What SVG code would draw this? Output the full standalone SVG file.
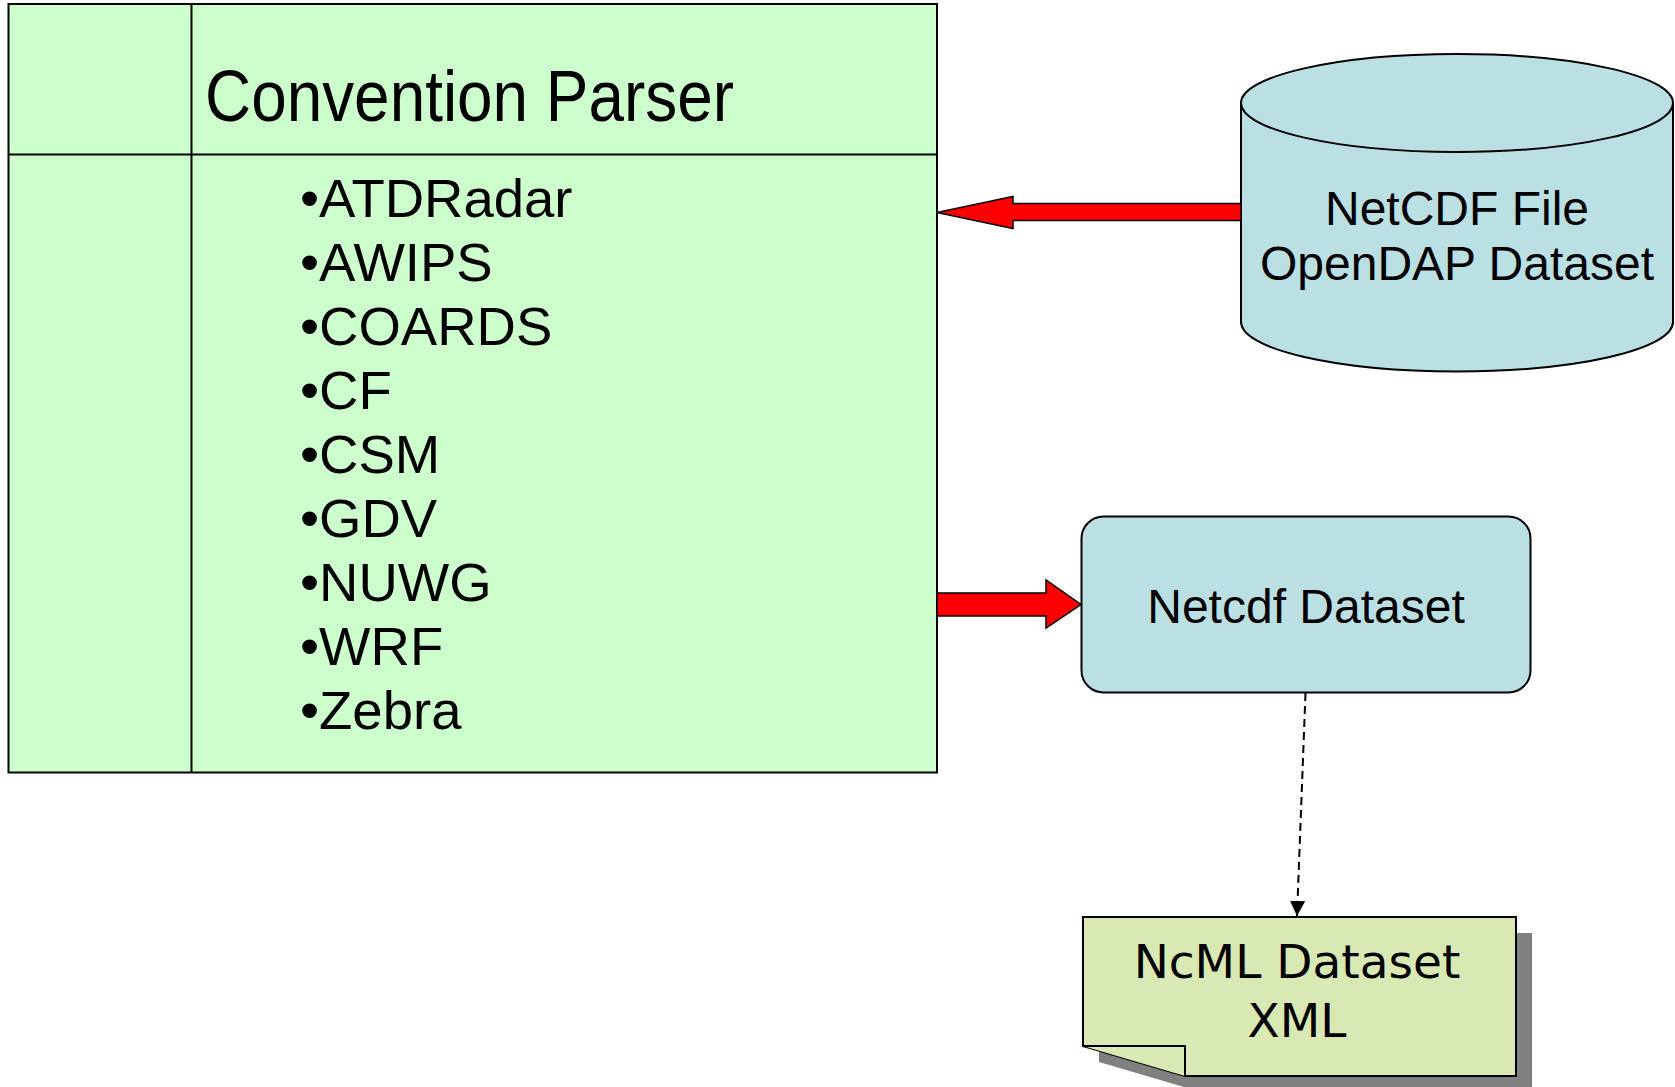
<svg xmlns="http://www.w3.org/2000/svg" width="1675" height="1087" viewBox="0 0 1675 1087">
  <defs>
    <style>
      .ln { stroke: #000; stroke-width: 2; fill: none; }
      .t { font-family: "Liberation Sans", Arial, sans-serif; fill: #000; }
      .list { font-size: 54.5px; }
      .lbl { font-size: 48px; text-anchor: middle; }
      .note { font-family: "DejaVu Sans", "Liberation Sans", sans-serif; font-size: 47px; text-anchor: middle; fill: #000; }
      .blk { fill: #FF0000; stroke: #000; stroke-width: 1.5; stroke-linejoin: miter; }
    </style>
    <marker id="tri" viewBox="0 0 10 10" refX="10" refY="5" markerWidth="15" markerHeight="15" markerUnits="userSpaceOnUse" orient="auto">
      <path d="M0,0 L10,5 L0,10 Z" fill="#000"/>
    </marker>
  </defs>
  <rect width="1675" height="1087" fill="#FFFFFF"/>

  <g id="convention-parser">
    <rect x="8.5" y="4" width="928.5" height="768.5" fill="#CCFFCC" stroke="#000" stroke-width="2"/>
    <line class="ln" x1="191.5" y1="4" x2="191.5" y2="772.5"/>
    <line class="ln" x1="8.5" y1="154.5" x2="937" y2="154.5"/>
    <text class="t" x="205" y="121" font-size="72" textLength="529" lengthAdjust="spacingAndGlyphs">Convention Parser</text>
    <text class="t list" x="300" y="216.7">•ATDRadar</text>
    <text class="t list" x="300" y="280.7">•AWIPS</text>
    <text class="t list" x="300" y="344.7">•COARDS</text>
    <text class="t list" x="300" y="408.7">•CF</text>
    <text class="t list" x="300" y="472.7">•CSM</text>
    <text class="t list" x="300" y="536.7">•GDV</text>
    <text class="t list" x="300" y="600.7">•NUWG</text>
    <text class="t list" x="300" y="664.7">•WRF</text>
    <text class="t list" x="300" y="728.7">•Zebra</text>
  </g>

  <g id="netcdf-file">
    <path d="M1241,103 L1241,322 A216,49.5 0 0 0 1673,322 L1673,103 A216,49 0 0 0 1241,103 Z" fill="#BBE0E3" stroke="#000" stroke-width="2"/>
    <path d="M1241,103 A216,49 0 0 0 1673,103" class="ln"/>
    <text class="t lbl" x="1457" y="225">NetCDF File</text>
    <text class="t lbl" x="1457" y="280">OpenDAP Dataset</text>
  </g>

  <g id="netcdf-dataset">
    <rect x="1081.5" y="516.5" width="449" height="176" rx="22" ry="22" fill="#BBE0E3" stroke="#000" stroke-width="2"/>
    <text class="t lbl" x="1306" y="623">Netcdf Dataset</text>
  </g>

  <g id="ncml-dataset">
    <path d="M1099,933 L1532,933 L1532,1092 L1201,1092 L1099,1062 Z" fill="#808080"/>
    <path d="M1083,917 L1516,917 L1516,1076 L1185,1076 L1083,1046 Z" fill="#D9E9B3" stroke="#000" stroke-width="2" stroke-linejoin="miter"/>
    <path d="M1083,1046 L1185,1046 L1185,1076" fill="#D9E9B3" stroke="#000" stroke-width="2"/>
    <text class="note" x="1297" y="978">NcML Dataset</text>
    <text class="note" x="1297" y="1037">XML</text>
  </g>

  <g id="connectors">
    <polygon class="blk" points="937,212.5 1013,196.5 1013,203.5 1241,203.5 1241,220.5 1013,220.5 1013,228.5"/>
    <polygon class="blk" points="937,593 1046,593 1046,580 1081,604.5 1046,628 1046,616 937,616"/>
    <line x1="1305.5" y1="693" x2="1297" y2="916" stroke="#000" stroke-width="2" stroke-dasharray="8,5" marker-end="url(#tri)"/>
  </g>
</svg>
